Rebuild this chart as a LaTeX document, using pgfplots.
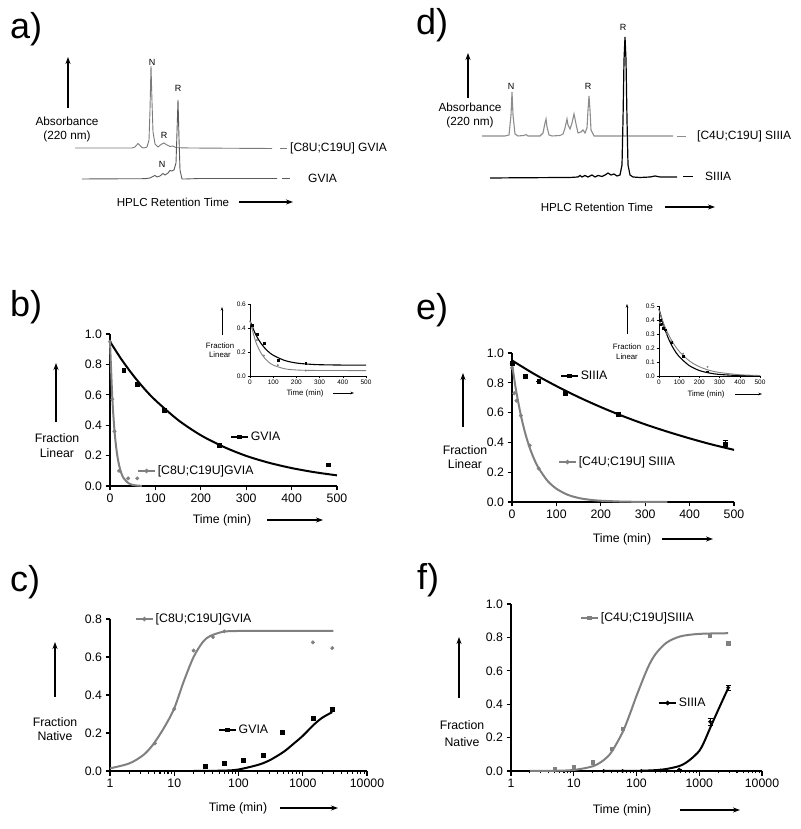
\documentclass[border=0pt]{standalone}
\usepackage{fontspec}
\setmainfont{Liberation Sans}
\usepackage{pgfplots}
\pgfplotsset{compat=1.18}
\usetikzlibrary{arrows.meta}

\definecolor{gr}{HTML}{808080}
\definecolor{trA}{HTML}{7A7A7A}
\definecolor{trB}{HTML}{5A5A5A}
\definecolor{trD}{HTML}{8C8C8C}

\newcommand{\fs}[1]{\fontsize{#1}{#1}\selectfont}
\newcommand{\fsl}[2]{\fontsize{#1}{#2}\selectfont}

\tikzset{
  lab/.style={-{Stealth[length=7pt,width=5pt]}, line width=1.1pt},
  labsm/.style={-{Stealth[length=3.5pt,width=2.5pt]}, line width=0.6pt},
}

\pgfplotsset{
  prism/.style={scale only axis, clip=false, anchor=south west,
    axis lines*=left, axis line style={line width=1.3pt},
    tick align=outside, major tick length=4.5pt, minor tick length=2.5pt,
    every tick/.style={black, line width=1.1pt},
    tick label style={font=\fs{12.3}},
    legend style={draw=none, fill=none, font=\fs{12.3}, inner sep=0pt, anchor=west},
    legend cell align=left,
    legend image code/.code={\draw[mark repeat=2,mark phase=2,##1] plot coordinates {(0pt,0pt) (8.5pt,0pt) (17pt,0pt)};}},
  leg/.style={prism, hide axis, xmin=0, xmax=1, ymin=0, ymax=1},
  inset/.style={scale only axis, clip=false, anchor=south west,
    axis lines*=left, axis line style={line width=0.7pt},
    tick align=outside, major tick length=2.5pt,
    every tick/.style={black, line width=0.6pt},
    tick label style={font=\fs{6.5}, inner sep=1.5pt},
    xmin=0, xmax=500, ymin=0,
    xtick={0,100,200,300,400,500}, xticklabels={0,100,200,300,400,500}},
  chrom/.style={scale only axis, hide axis, clip=false, anchor=south west},
}

\begin{document}
\begin{tikzpicture}
\useasboundingbox (0pt,0pt) rectangle (800pt,829pt);

% ---------------- a) chromatograms
\begin{axis}[chrom, at={(60pt,639pt)}, width=240pt, height=140pt,
  xmin=0, xmax=240, ymin=0, ymax=140]
\addplot[trA, line width=0.9pt] coordinates {
 (15,42) (40,42) (60,42) (72,42) (75,43) (78,46.5) (80,44.5) (82,42.5) (84,42)
 (87,43) (89,50) (90,80) (91,124) (92,88) (93,58) (95,46) (98,43) (101,45.5)
 (104,47) (107,45) (110,43.5) (113,44) (116,42.3) (130,42) (160,41.8) (212,41.5)};
\addplot[trB, line width=0.9pt] coordinates {
 (22,11) (60,11.2) (85,11.3) (90,12) (93,13.5) (95,14.5) (97,13) (100,14)
 (103,16.5) (105,15) (108,17) (110,19.5) (112,19) (114,20) (116,27) (117,58)
 (118,90) (119,52) (120,20) (122,11) (125,11) (140,11.5) (180,11.5) (217,11.5)};
\end{axis}
\node[font=\fs{36}, anchor=base west, inner sep=0pt] at (10pt,790pt) {a)};
\draw[lab] (68pt,721pt) -- (68pt,772pt);
\node[font=\fsl{11.8}{14}, align=center] at (67pt,700pt) {Absorbance\\(220 nm)};
\node[font=\fs{11.6}] at (173pt,627pt) {HPLC Retention Time};
\draw[lab] (239pt,627pt) -- (293pt,627pt);
\node[font=\fs{9}, inner sep=0pt] at (152pt,767pt) {N};
\node[font=\fs{9}, inner sep=0pt] at (178pt,741pt) {R};
\node[font=\fs{9}, inner sep=0pt] at (164pt,694pt) {R};
\node[font=\fs{9}, inner sep=0pt] at (162pt,665pt) {N};
\draw[trA, line width=0.9pt] (280pt,681pt) -- (287pt,681pt);
\node[font=\fs{12}, anchor=west, inner sep=0pt] at (290pt,681pt) {[C8U;C19U] GVIA};
\draw[trB, line width=0.9pt] (282pt,651pt) -- (290pt,651pt);
\node[font=\fs{12}, anchor=west, inner sep=0pt] at (308pt,651pt) {GVIA};

% ---------------- d) chromatograms
\begin{axis}[chrom, at={(470pt,639pt)}, width=230pt, height=170pt,
  xmin=0, xmax=230, ymin=0, ymax=170]
\addplot[trD, line width=1.1pt] coordinates {
 (12,54) (35,54) (39,55) (41,75) (42,98) (43,75) (45,56) (48,54) (54,54.5)
 (56,55.5) (58,54) (70,54) (73,57) (75,67) (76,71) (77,63) (79,55) (82,54)
 (90,54.5) (93,56) (95,62) (97,71) (98,65) (100,61) (102,67) (104,76) (106,66)
 (108,57) (111,58) (113,60) (115,57) (117,62) (118,80) (119,94) (120,80)
 (121,60) (124,54) (130,54) (203,54)};
\addplot[black, line width=1.2pt] coordinates {
 (20,12) (60,12.3) (100,12.5) (108,13) (110,14.5) (112,13) (115,14.5) (118,13)
 (122,15) (125,13) (128,14.5) (132,13.5) (136,15.5) (138,17) (141,15) (144,16)
 (147,14) (150,15) (152,25) (153,70) (154,130) (155,153) (156,130) (157,70)
 (158,25) (160,15) (163,13) (170,12.5) (180,13) (185,14) (190,13) (207,13)};
\end{axis}
\node[font=\fs{36}, anchor=base west, inner sep=0pt] at (416pt,794pt) {d)};
\draw[lab] (468pt,731pt) -- (468pt,776pt);
\node[font=\fsl{11.8}{14}, align=center] at (470pt,714pt) {Absorbance\\(220 nm)};
\node[font=\fs{11.6}] at (597pt,622pt) {HPLC Retention Time};
\draw[lab] (665pt,622pt) -- (715pt,622pt);
\node[font=\fs{9}, inner sep=0pt] at (511pt,743pt) {N};
\node[font=\fs{9}, inner sep=0pt] at (588pt,743pt) {R};
\node[font=\fs{9}, inner sep=0pt] at (623pt,802pt) {R};
\draw[trD, line width=0.9pt] (677pt,693pt) -- (686pt,693pt);
\node[font=\fs{12}, anchor=west, inner sep=0pt] at (697pt,693pt) {[C4U;C19U] SIIIA};
\draw[black, line width=0.9pt] (683pt,653pt) -- (693pt,653pt);
\node[font=\fs{12}, anchor=west, inner sep=0pt] at (705pt,653pt) {SIIIA};

% ---------------- b)
\begin{axis}[prism, at={(110pt,343pt)}, width=227pt, height=152pt,
  xmin=0, xmax=500, ymin=0, ymax=1,
  xtick={0,100,200,300,400,500}, xticklabels={0,100,200,300,400,500},
  ytick={0,0.2,0.4,0.6,0.8,1}, yticklabels={0.0,0.2,0.4,0.6,0.8,1.0},
  legend style={at={(0.529,0.322)}}]
\addlegendimage{black, line width=1.6pt, mark=square*, mark size=1.4pt}
\addlegendentry{GVIA}
\addplot[black, line width=2pt, smooth, forget plot] coordinates {
 (0,0.95) (25,0.834) (50,0.732) (75,0.642) (100,0.564) (150,0.434) (200,0.334)
 (250,0.258) (300,0.198) (350,0.153) (400,0.118) (450,0.091) (500,0.070)};
\addplot[black, only marks, mark=square*, mark size=1.9pt, forget plot] coordinates {
 (30,0.76) (60,0.67) (120,0.50) (240,0.27) (480,0.14)};
\addplot[gr, line width=2pt, smooth, forget plot] coordinates {
 (0,0.95) (5,0.585) (10,0.36) (15,0.222) (20,0.137) (25,0.084) (30,0.052)
 (40,0.020) (50,0.0074) (60,0.0028) (70,0.001)};
\addplot[gr, only marks, mark=*, mark size=1.8pt, forget plot] coordinates {
 (0,0.95) (5,0.57) (10,0.36) (20,0.10) (40,0.05) (60,0.05)};
\end{axis}
\begin{axis}[leg, at={(110pt,343pt)}, width=227pt, height=152pt,
  legend style={at={(0.119,0.099)}}]
\addlegendimage{gr, line width=1.6pt, mark=*, mark size=1.3pt}
\addlegendentry{[C8U;C19U]GVIA}
\end{axis}
\node[font=\fs{36}, anchor=base west, inner sep=0pt] at (10pt,512pt) {b)};
\draw[lab] (56pt,407pt) -- (56pt,466pt);
\node[font=\fsl{12.3}{15}, align=center] at (57pt,383pt) {Fraction\\Linear};
\node[font=\fs{12.3}] at (222pt,309pt) {Time (min)};
\draw[lab] (267pt,309pt) -- (323pt,309pt);

% inset b
\begin{axis}[inset, at={(250pt,453pt)}, width=116pt, height=72pt,
  ymax=0.6, ytick={0,0.2,0.4,0.6}, yticklabels={0.0,0.2,0.4,0.6}]
\addplot[black, line width=1.1pt, smooth] coordinates {
 (0,0.46) (25,0.344) (50,0.265) (75,0.210) (100,0.173) (150,0.129) (200,0.108)
 (250,0.099) (300,0.094) (400,0.091) (500,0.090)};
\addplot[black, only marks, mark=square*, mark size=0.9pt] coordinates {
 (10,0.42) (30,0.35) (60,0.27) (120,0.13) (240,0.105)};
\addplot[gr, line width=0.9pt, smooth] coordinates {
 (0,0.46) (25,0.284) (50,0.183) (75,0.125) (100,0.091) (150,0.060) (200,0.050)
 (250,0.047) (300,0.046) (500,0.045)};
\addplot[gr, only marks, mark=*, mark size=0.8pt] coordinates {
 (10,0.40) (30,0.30) (60,0.17) (120,0.09) (240,0.045)};
\end{axis}
\draw[labsm] (222pt,494pt) -- (222pt,522pt);
\node[font=\fsl{7.8}{9}, align=center] at (220pt,478.5pt) {Fraction\\Linear};
\node[font=\fs{7.8}] at (305pt,436pt) {Time (min)};
\draw[labsm] (333pt,436pt) -- (354pt,436pt);

% ---------------- e)
\begin{axis}[prism, at={(512pt,327pt)}, width=222pt, height=149pt,
  xmin=0, xmax=500, ymin=0, ymax=1,
  xtick={0,100,200,300,400,500}, xticklabels={0,100,200,300,400,500},
  ytick={0,0.2,0.4,0.6,0.8,1}, yticklabels={0.0,0.2,0.4,0.6,0.8,1.0},
  legend style={at={(0.216,0.846)}}]
\addlegendimage{black, line width=1.6pt, mark=square*, mark size=1.4pt}
\addlegendentry{SIIIA}
\addplot[black, line width=2pt, smooth, forget plot] coordinates {
 (0,0.95) (50,0.859) (100,0.778) (150,0.704) (200,0.637) (250,0.576)
 (300,0.521) (350,0.472) (400,0.427) (450,0.386) (500,0.35)};
\addplot[black, only marks, mark=square*, mark size=1.9pt, forget plot,
  error bars/.cd, y dir=both, y explicit,
  error bar style={line width=1pt}, error mark options={rotate=90, mark size=2.5pt, line width=1pt}]
  coordinates {(0,0.93) +- (0,0) (30,0.845) +- (0,0) (60,0.81) +- (0,0)
   (120,0.73) +- (0,0) (240,0.59) +- (0,0) (480,0.39) +- (0,0.02)};
\addplot[gr, line width=2pt, smooth, forget plot] coordinates {
 (0,0.93) (5,0.827) (10,0.735) (20,0.581) (30,0.459) (40,0.363) (50,0.287)
 (60,0.227) (80,0.142) (100,0.089) (125,0.049) (150,0.027) (175,0.015)
 (200,0.0085) (250,0.0026) (300,0.0008) (350,0)};
\addplot[gr, only marks, mark=*, mark size=1.8pt, forget plot] coordinates {
 (0,0.90) (5,0.73) (10,0.68) (20,0.58) (40,0.38) (60,0.225)};
\end{axis}
\begin{axis}[leg, at={(512pt,327pt)}, width=222pt, height=149pt,
  legend style={at={(0.207,0.268)}}]
\addlegendimage{gr, line width=1.6pt, mark=*, mark size=1.3pt}
\addlegendentry{[C4U;C19U] SIIIA}
\end{axis}
\node[font=\fs{36}, anchor=base west, inner sep=0pt] at (416pt,509pt) {e)};
\draw[lab] (463pt,402pt) -- (463pt,456pt);
\node[font=\fsl{12.3}{13.5}, align=center] at (465pt,372pt) {Fraction\\Linear};
\node[font=\fs{12.3}] at (622pt,290pt) {Time (min)};
\draw[lab] (662pt,290pt) -- (713pt,290pt);

% inset e
\begin{axis}[inset, at={(659pt,453pt)}, width=101pt, height=70pt,
  ymax=0.5, ytick={0,0.1,0.2,0.3,0.4,0.5}, yticklabels={0.0,0.1,0.2,0.3,0.4,0.5}]
\addplot[black, line width=1.1pt, smooth] coordinates {
 (0,0.48) (25,0.351) (50,0.257) (75,0.188) (100,0.138) (150,0.074) (200,0.039)
 (250,0.021) (300,0.011) (400,0.003) (500,0.001)};
\addplot[black, only marks, mark=square*, mark size=0.9pt] coordinates {
 (5,0.40) (10,0.37) (20,0.34) (30,0.33) (60,0.24) (120,0.14) (240,0.03)};
\addplot[gr, line width=0.9pt, smooth] coordinates {
 (0,0.47) (25,0.368) (50,0.288) (75,0.225) (100,0.176) (150,0.108) (200,0.066)
 (250,0.040) (300,0.025) (400,0.009) (500,0.0035)};
\addplot[gr, only marks, mark=*, mark size=0.8pt] coordinates {
 (5,0.38) (20,0.36) (40,0.30) (60,0.25) (120,0.16) (240,0.065)};
\end{axis}
\draw[labsm] (627pt,495pt) -- (627pt,525pt);
\node[font=\fsl{7.8}{10}, align=center] at (627pt,477pt) {Fraction\\Linear};
\node[font=\fs{7.8}] at (706pt,435pt) {Time (min)};
\draw[labsm] (735pt,435pt) -- (762pt,435pt);

% ---------------- c)
\begin{axis}[prism, at={(110pt,58pt)}, width=257pt, height=152pt,
  xmode=log, xmin=1, xmax=10000, ymin=0, ymax=0.8,
  xtick={1,10,100,1000,10000}, xticklabels={1,10,100,1000,10000},
  ytick={0,0.2,0.4,0.6,0.8}, yticklabels={0.0,0.2,0.4,0.6,0.8},
  legend style={at={(0.097,1.0)}}]
\addlegendimage{gr, line width=1.6pt, mark=*, mark size=1.3pt}
\addlegendentry{[C8U;C19U]GVIA}
\addplot[gr, line width=2pt, smooth, tension=0.5, forget plot] coordinates {
 (1,0.014) (2,0.04) (3.3,0.084) (4.7,0.14) (7,0.23) (10,0.33) (14,0.47)
 (20,0.60) (28,0.68) (36,0.71) (58,0.733) (100,0.737) (300,0.737)
 (1000,0.737) (3000,0.737)};
\addplot[gr, only marks, mark=*, mark size=1.8pt, forget plot] coordinates {
 (5,0.145) (10,0.326) (20,0.634) (40,0.705) (60,0.735) (1440,0.677) (2880,0.647)};
\addplot[black, line width=2pt, smooth, tension=0.5, forget plot] coordinates {
 (20,0) (60,0.002) (100,0.008) (200,0.032) (300,0.055) (500,0.10) (700,0.14)
 (1000,0.185) (1500,0.245) (2000,0.28) (2880,0.31)};
\addplot[black, only marks, mark=square*, mark size=1.9pt, forget plot] coordinates {
 (30,0.025) (60,0.039) (120,0.056) (240,0.083) (480,0.203) (1440,0.28) (2880,0.326)};
\end{axis}
\begin{axis}[leg, at={(110pt,58pt)}, width=257pt, height=152pt,
  legend style={at={(0.42,0.27)}}]
\addlegendimage{black, line width=1.6pt, mark=square*, mark size=1.4pt}
\addlegendentry{GVIA}
\end{axis}
\node[font=\fs{36}, anchor=base west, inner sep=0pt] at (10pt,237pt) {c)};
\draw[lab] (55pt,132pt) -- (55pt,187pt);
\node[font=\fsl{12.3}{13.5}, align=center] at (55pt,100pt) {Fraction\\Native};
\node[font=\fs{12.3}] at (238pt,21pt) {Time (min)};
\draw[lab] (280pt,21pt) -- (338pt,21pt);

% ---------------- f)
\begin{axis}[prism, at={(511pt,58pt)}, width=251pt, height=167pt,
  xmode=log, xmin=1, xmax=10000, ymin=0, ymax=1,
  xtick={1,10,100,1000,10000}, xticklabels={1,10,100,1000,10000},
  ytick={0,0.2,0.4,0.6,0.8,1}, yticklabels={0.0,0.2,0.4,0.6,0.8,1.0},
  legend style={at={(0.275,0.916)}}]
\addlegendimage{gr, line width=1.6pt, mark=square*, mark size=1.4pt}
\addlegendentry{[C4U;C19U]SIIIA}
\addplot[gr, line width=2pt, smooth, tension=0.5, forget plot] coordinates {
 (2,0.0003) (5,0.0014) (10,0.0062) (20,0.028) (30,0.065) (40,0.114) (60,0.232)
 (80,0.35) (100,0.45) (150,0.615) (200,0.699) (300,0.768) (500,0.806)
 (1000,0.821) (2880,0.825)};
\addplot[gr, only marks, mark=square*, mark size=1.8pt, forget plot] coordinates {
 (5,0.014) (10,0.024) (20,0.054) (40,0.134) (60,0.254) (1460,0.81) (2900,0.766)};
\addplot[black, line width=2pt, smooth, tension=0.5, forget plot] coordinates {
 (30,0) (100,0.001) (200,0.005) (300,0.012) (500,0.032) (700,0.065)
 (1000,0.12) (1200,0.175) (1500,0.26) (2000,0.365) (2880,0.495)};
\addplot[black, only marks, mark=*, mark size=1.7pt, forget plot,
  error bars/.cd, y dir=both, y explicit,
  error bar style={line width=1pt}, error mark options={rotate=90, mark size=2.5pt, line width=1pt}]
  coordinates {(30,0) +- (0,0) (60,0) +- (0,0) (120,0) +- (0,0) (240,0.003) +- (0,0)
   (480,0.008) +- (0,0) (1490,0.295) +- (0,0.02) (2900,0.499) +- (0,0.015)};
\end{axis}
\begin{axis}[leg, at={(511pt,58pt)}, width=251pt, height=167pt,
  legend style={at={(0.586,0.407)}}]
\addlegendimage{black, line width=1.6pt, mark=*, mark size=1.3pt}
\addlegendentry{SIIIA}
\end{axis}
\node[font=\fs{36}, anchor=base west, inner sep=0pt] at (417pt,239pt) {f)};
\draw[lab] (459pt,131pt) -- (459pt,192pt);
\node[font=\fsl{12.3}{17}, align=center] at (462pt,95pt) {Fraction\\Native};
\node[font=\fs{12.3}] at (622pt,19pt) {Time (min)};
\draw[lab] (680pt,19pt) -- (740pt,19pt);

\end{tikzpicture}
\end{document}
